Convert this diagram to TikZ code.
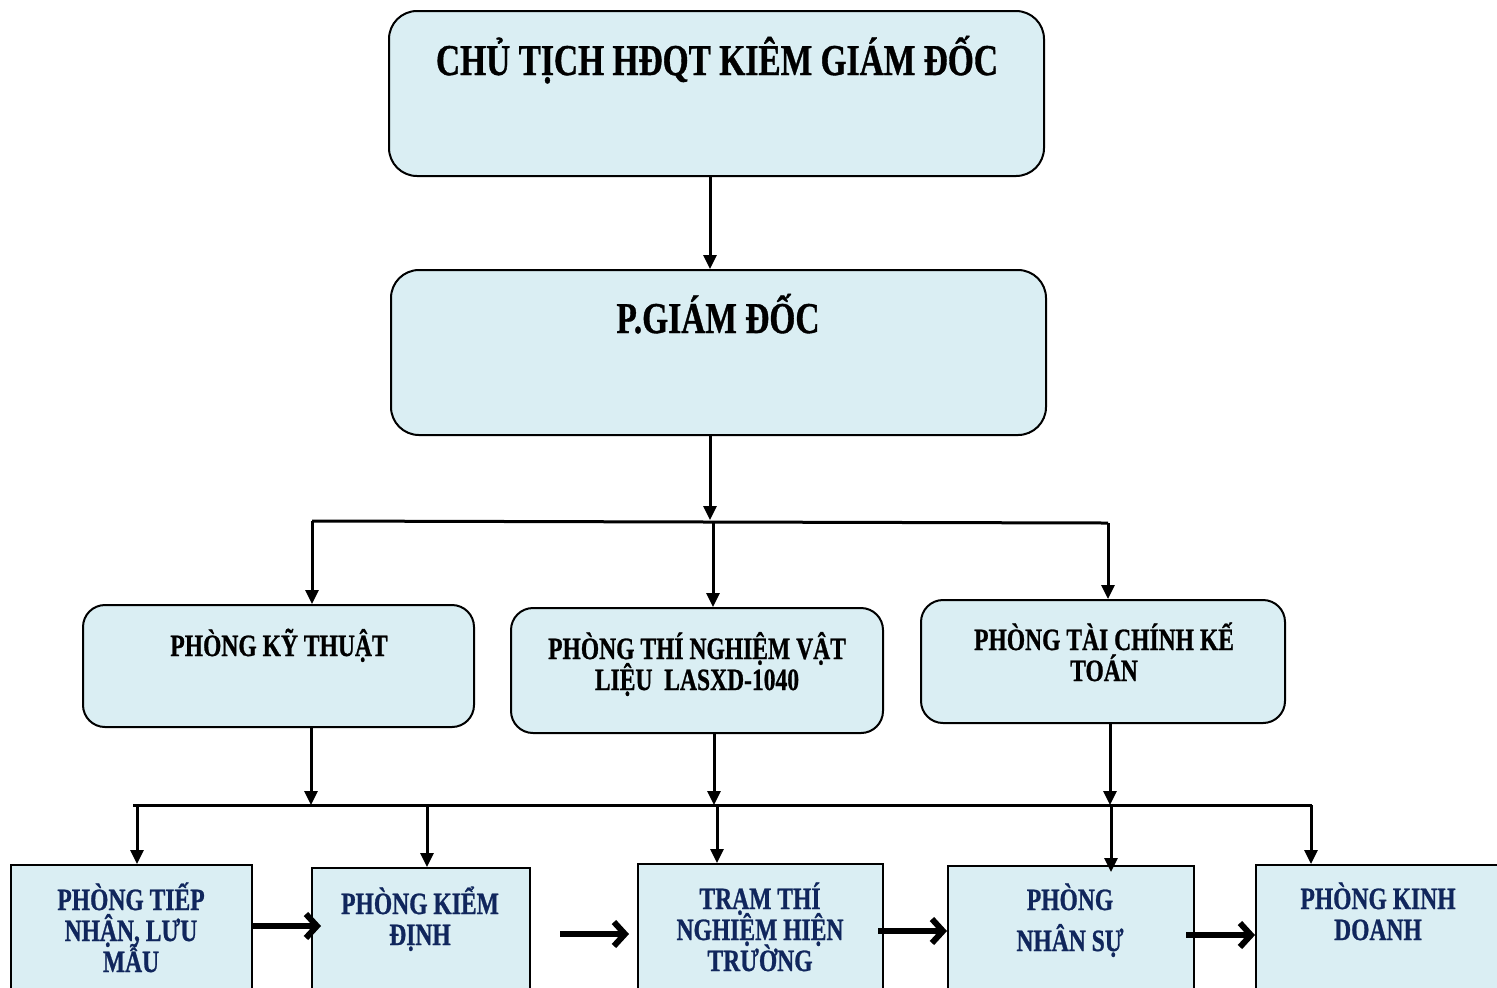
\documentclass[tikz,border=0pt]{standalone}
\usepackage{fontspec}
\newfontfamily\cf[FakeStretch=0.76,FakeBold=0.8]{Liberation Serif}
\usetikzlibrary{arrows.meta}
\definecolor{boxfill}{HTML}{DAEEF3}
\definecolor{navy}{HTML}{10265C}
\newcommand\tightlines{\lineskiplimit=-20pt\relax\lineskip=0pt\relax}
\begin{document}
\begin{tikzpicture}[x=0.5pt,y=-0.5pt,
  rbox/.style={draw, line width=1pt, fill=boxfill, rounded corners=14pt, inner sep=0pt},
  mbox/.style={draw, line width=1pt, fill=boxfill, rounded corners=11pt, inner sep=0pt},
  sbox/.style={draw, line width=1pt, fill=boxfill, inner sep=0pt},
  conn/.style={line width=1.5pt, -{Triangle[length=7pt,width=6.5pt]}},
  bus/.style={line width=1.5pt},
  flow/.style={line width=3pt, -{Straight Barb[length=5.5pt,width=12pt]}},
  toptext/.style={font=\cf\bfseries\fontsize{22}{24}\selectfont, anchor=base, inner sep=0pt},
  midtext/.style={font=\cf\bfseries\fontsize{15.5}{15.5}\selectfont\tightlines, align=center, anchor=base, inner sep=0pt},
  lowtext/.style={font=\cf\bfseries\fontsize{15.5}{15.5}\selectfont\tightlines, text=navy, align=center, anchor=base, inner sep=0pt}]
\useasboundingbox (0,0) rectangle (1497,987);
\clip (0,0) rectangle (1497,987);
\fill[white] (0,0) rectangle (1497,987);

% boxes
\node[rbox, minimum width=327.5pt, minimum height=82.5pt] (top) at (716.5,93.5) {};
\node[rbox, minimum width=327.5pt, minimum height=82.5pt] (pgd) at (718.5,352.5) {};
\node[mbox, minimum width=195.5pt, minimum height=61pt] (kt) at (278.5,666) {};
\node[mbox, minimum width=186pt, minimum height=62.5pt] (tn) at (697,670.5) {};
\node[mbox, minimum width=182pt, minimum height=61.5pt] (tc) at (1103,661.5) {};
\node[sbox, minimum width=120.5pt, minimum height=72.5pt] (b1) at (131.5,937.5) {};
\node[sbox, minimum width=109pt, minimum height=71pt] (b2) at (421,939) {};
\node[sbox, minimum width=122.5pt, minimum height=73pt] (b3) at (760.5,937) {};
\node[sbox, minimum width=123pt, minimum height=72pt] (b4) at (1071,938) {};
\node[sbox, minimum width=127pt, minimum height=72.5pt] (b5) at (1383,937.5) {};

% texts (anchor=base is the baseline of the last line)
\node[toptext] (ttop) at (717,75) {CHỦ TỊCH HĐQT KIÊM GIÁM ĐỐC};
\node[toptext] (tpgd) at (718,333) {P.GIÁM ĐỐC};
\node[midtext] (tkt) at (279,656) {PHÒNG KỸ THUẬT};
\node[midtext] (ttn) at (697,690) {PHÒNG THÍ NGHIỆM VẬT\\LIỆU~~LASXD-1040};
\node[midtext] (ttc) at (1104,681) {PHÒNG TÀI CHÍNH KẾ\\TOÁN};
\node[lowtext] (tb1) at (131,972) {PHÒNG TIẾP\\NHẬN, LƯU\\MẪU};
\node[lowtext] (tb2) at (420,945) {PHÒNG KIỂM\\ĐỊNH};
\node[lowtext] (tb3) at (760,971) {TRẠM THÍ\\NGHIỆM HIỆN\\TRƯỜNG};
\node[lowtext] (tb4) at (1070,951) {PHÒNG\\[5pt]NHÂN SỰ};
\node[lowtext] (tb5) at (1378,940) {PHÒNG KINH\\DOANH};

% upper connectors
\coordinate (c1) at (710,520);
\coordinate (bl) at (312,521);
\coordinate (bm) at (713,522);
\coordinate (br) at (1108,523);
\draw[conn] (top.south -| c1) -- (pgd.north -| c1);
\draw[conn] (pgd.south -| c1) -- (c1);
\draw[bus] (bl) -- (br);
\draw[conn] (bl) -- (kt.north -| bl);
\draw[conn] (bm) -- (tn.north -| bm);
\draw[conn] (br) -- (tc.north -| br);

% lower bus
\coordinate (ll) at (133,805);
\coordinate (lr) at (1312,805);
\draw[bus] (ll) -- (lr);
\coordinate (u1) at (311,805);
\coordinate (u2) at (714,805);
\coordinate (u3) at (1110,805);
\draw[conn] (kt.south -| u1) -- (u1);
\draw[conn] (tn.south -| u2) -- (u2);
\draw[conn] (tc.south -| u3) -- (u3);
\coordinate (d1) at (137,805);
\coordinate (d2) at (427,805);
\coordinate (d3) at (717,805);
\coordinate (d4) at (1111,805);
\coordinate (d4e) at (1111,872);
\coordinate (d5) at (1311,805);
\draw[conn] (d1) -- (b1.north -| d1);
\draw[conn] (d2) -- (b2.north -| d2);
\draw[conn] (d3) -- (b3.north -| d3);
\draw[conn] (d4) -- (d4e);
\draw[conn] (d5) -- (b5.north -| d5);

% flow arrows
\coordinate (f1) at (252,926);
\coordinate (f1e) at (321,926);
\coordinate (f2) at (560,934);
\coordinate (f2e) at (629,934);
\coordinate (f3) at (878,931);
\coordinate (f3e) at (947,931);
\coordinate (f4) at (1186,935);
\coordinate (f4e) at (1255,935);
\draw[flow] (f1) -- (f1e);
\draw[flow] (f2) -- (f2e);
\draw[flow] (f3) -- (f3e);
\draw[flow] (f4) -- (f4e);
\end{tikzpicture}
\end{document}
